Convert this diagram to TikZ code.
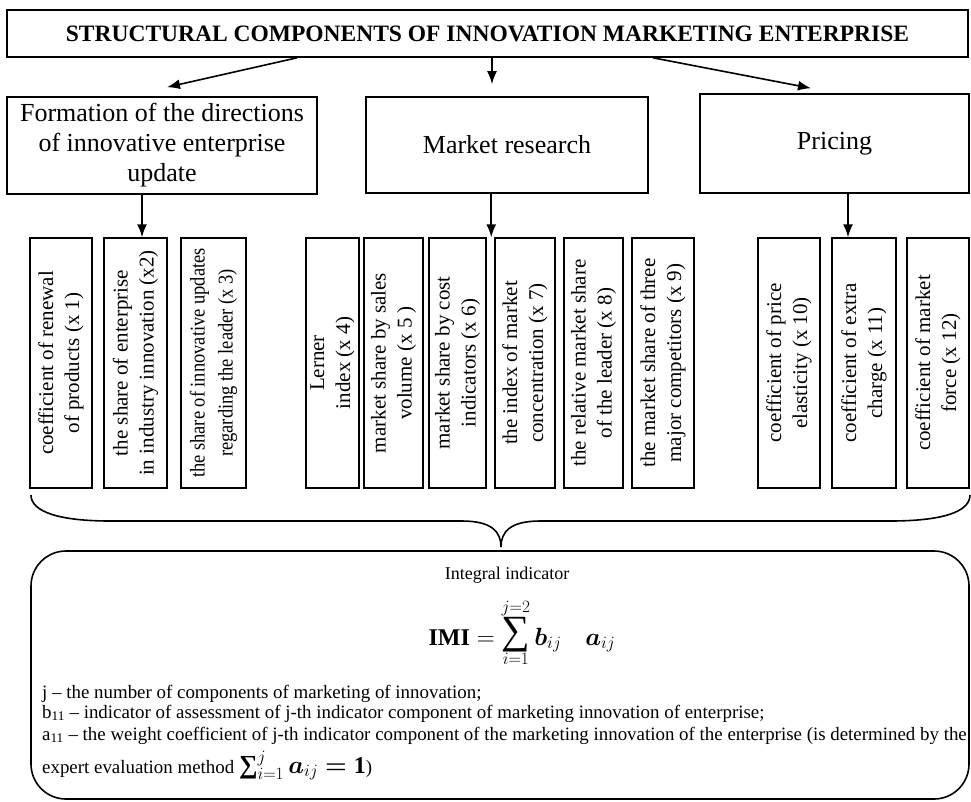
\documentclass[tikz,border=0pt]{standalone}
\usepackage{bm}
\usepackage{fontspec}
\setmainfont{Liberation Serif}
\newfontfamily\narrowfont[FakeStretch=0.88]{Liberation Serif}
\usetikzlibrary{arrows.meta, calc}

\newcommand{\bigsum}{\mathop{\raisebox{2pt}{\fontsize{40}{40}\selectfont ∑}}\limits}
\newcommand{\smallsum}{\mathop{\hbox{\fontsize{26}{26}\selectfont\bfseries ∑}}\nolimits}

\tikzstyle{heading} = [rectangle, draw=black, line width=1.6pt, minimum width=961pt, minimum height=47pt, font=\fontsize{23.5}{27}\selectfont\bfseries]
\tikzstyle{group} = [rectangle, draw=black, line width=1.6pt, align=center, inner sep=0pt, font=\fontsize{26}{30}\selectfont]
\tikzstyle{indicator} = [rectangle, draw=black, line width=1.5pt, rotate=90, minimum width=250pt, align=center, inner sep=0pt, font=\fontsize{21}{26}\selectfont]
\tikzstyle{panel} = [rectangle, rounded corners=35pt, draw=black, line width=1.6pt, minimum width=938pt, minimum height=248pt]
\tikzstyle{note} = [anchor=base west, inner sep=0pt, font=\fontsize{18.9}{20}\selectfont]
\tikzstyle{arrow} = [line width=1.6pt, -{Latex[length=13pt, width=10pt]}]

\begin{document}
\begin{tikzpicture}[x=1pt, y=-1pt]

    \useasboundingbox (0,0) rectangle (971,801);

    % Nodes
    \node (top) [heading] at (487.5,33.5) {STRUCTURAL COMPONENTS OF INNOVATION MARKETING ENTERPRISE};
    \node (form) [group, minimum width=310pt, minimum height=97pt] at (162,145.5) {Formation of the directions\\of innovative enterprise\\update};
    \node (market) [group, minimum width=282pt, minimum height=96pt] at (507,145) {Market research};
    \node (pricing) [group, minimum width=269pt, minimum height=99pt] at (834.5,143.5) {Pricing};

    \node (ind1) [indicator, minimum height=62pt] at (61,363) {coefficient of renewal\\of products (x 1)};
    \node (ind2) [indicator, minimum height=63pt] at (135.5,363) {the share of enterprise\\in industry innovation (x2)};
    \node (ind3) [indicator, minimum height=65pt, font=\narrowfont\fontsize{21}{28}\selectfont] at (213.5,363) {the share of innovative updates\\regarding the leader (x 3)};
    \node (ind4) [indicator, minimum height=53pt] at (332.5,363) {Lerner\\index (x 4)};
    \node (ind5) [indicator, minimum height=59pt] at (393.5,363) {market share by sales\\volume (x 5 )};
    \node (ind6) [indicator, minimum height=57pt] at (457.5,363) {market share by cost\\indicators (x 6)};
    \node (ind7) [indicator, minimum height=60pt] at (525,363) {the index of market\\concentration (x 7)};
    \node (ind8) [indicator, minimum height=59pt] at (593.5,363) {the relative market share\\of the leader (x 8)};
    \node (ind9) [indicator, minimum height=62pt] at (663,363) {the market share of three\\major competitors (x 9)};
    \node (ind10) [indicator, minimum height=62pt] at (789,363) {coefficient of price\\elasticity (x 10)};
    \node (ind11) [indicator, minimum height=64pt] at (864,363) {coefficient of extra\\charge (x 11)};
    \node (ind12) [indicator, minimum height=62pt] at (938,363) {coefficient of market\\force (x 12)};

    \node (integral) [panel] at (500,675) {};

    % Arrows
    \draw [arrow] ([xshift=-190.5pt]top.south) -- ([xshift=5pt,yshift=9pt]form.north);
    \draw [arrow] ([xshift=4.5pt]top.south) -- ([xshift=-15pt,yshift=12pt]market.north);
    \draw [arrow] ([xshift=165.5pt]top.south) -- ([xshift=-23.5pt,yshift=5pt]pricing.north);
    \draw [arrow] ($(form.south -| ind2.east)+(6.5,0)$) -- ($(ind2.east)+(6.5,0)$);
    \coordinate (gap) at ($(ind6.east)!0.5!(ind7.east)$);
    \draw [arrow] (market.south -| gap) -- (gap);
    \draw [arrow] ($(pricing.south -| ind11.east)+(-16,0)$) -- ($(ind11.east)+(-16,0)$);

    % Brace
    \draw [line width=1.6pt] (31,495) .. controls (31,512) and (60,521) .. (110,521) -- (462,521)
        .. controls (492,521) and (501,532) .. (501,547) .. controls (501,532) and (510,521) .. (540,521)
        -- (890,521) .. controls (942,521) and (970,512) .. (970,495);

    % Labels
    \node (caption) [font=\fontsize{18}{20}\selectfont] at (507,575) {Integral indicator};
    \node (formula) [anchor=base, font=\fontsize{24}{28}\selectfont] at (522,645) {$\mathbf{IMI} = \bigsum_{i=1}^{j=2} \bm{b}_{ij}\quad \bm{a}_{ij}$};
    \node (noteJ) [note] at (42,698) {j -- the number of components of marketing of innovation;};
    \node (noteB) [note] at (42,718) {b\textsubscript{11} -- indicator of assessment of j-th indicator component of marketing innovation of enterprise;};
    \node (noteA) [note] at (42,740) {a\textsubscript{11} -- the weight coefficient of j-th indicator component of the marketing innovation of the enterprise (is determined by the};
    \node (noteE) [note] at (42,773) {expert evaluation method {\fontsize{24}{26}\selectfont$\smallsum_{i=1}^{j} \bm{a}_{ij} \bm{=} \mathbf{1}$})};

\end{tikzpicture}
\end{document}
